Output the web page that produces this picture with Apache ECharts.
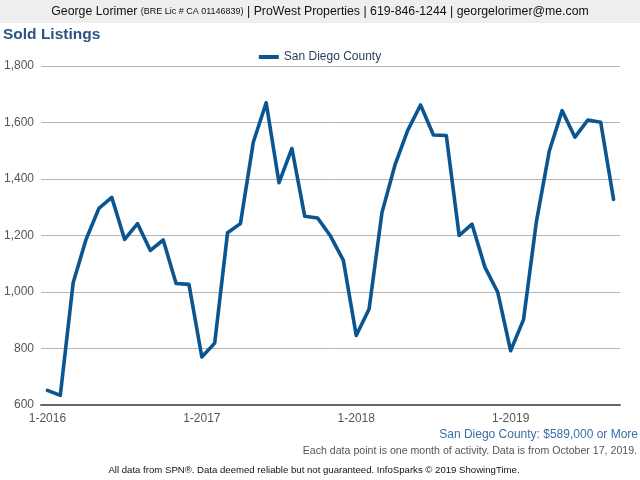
<!DOCTYPE html>
<html><head><meta charset="utf-8">
<script src="https://cdn.jsdelivr.net/npm/echarts@6/dist/echarts.min.js"></script>
<style>html,body{margin:0;padding:0;background:#fff}#c{width:640px;height:480px}</style>
</head><body><div id="c"></div>
<script>
var months = ["1-2016","2-2016","3-2016","4-2016","5-2016","6-2016","7-2016","8-2016","9-2016","10-2016","11-2016","12-2016",
"1-2017","2-2017","3-2017","4-2017","5-2017","6-2017","7-2017","8-2017","9-2017","10-2017","11-2017","12-2017",
"1-2018","2-2018","3-2018","4-2018","5-2018","6-2018","7-2018","8-2018","9-2018","10-2018","11-2018","12-2018",
"1-2019","2-2019","3-2019","4-2019","5-2019","6-2019","7-2019","8-2019","9-2019"];
var sanDiego = [652,634,1033,1186,1296,1335,1186,1242,1147,1184,1030,1027,
770,819,1210,1242,1530,1670,1387,1508,1268,1262,1198,1112,
846,940,1281,1448,1572,1662,1556,1554,1200,1240,1088,999,
792,902,1248,1498,1642,1548,1609,1601,1328];
var yTicks = [600,800,1000,1200,1400,1600,1800];

var chart = echarts.init(document.getElementById('c'));
chart.setOption({
  animation:false,
  backgroundColor:'#fff',
  graphic:[
    {type:'rect',shape:{x:0,y:0,width:640,height:23},style:{fill:'#eeeeee'}},
    {type:'text',x:320,y:12,style:{text:'{a|George Lorimer} {b|(BRE Lic # CA 01146839)}{a| | ProWest Properties | 619-846-1244 | georgelorimer@me.com}',
      align:'center',verticalAlign:'middle',
      rich:{a:{fontSize:12.3,fontFamily:'Liberation Sans, Arial',fill:'#111'},b:{fontSize:9,fontFamily:'Liberation Sans, Arial',fill:'#111'}}}},
    {type:'text',x:3,y:35,style:{text:'Sold Listings',fontSize:15.5,fontWeight:'bold',fontFamily:'Liberation Sans, Arial',fill:'#2a5482',verticalAlign:'middle'}},
    {type:'text',x:638,y:435,style:{text:'San Diego County: $589,000 or More',fontSize:12,fontFamily:'Liberation Sans, Arial',fill:'#3b6ea5',align:'right',verticalAlign:'middle'}},
    {type:'text',x:637,y:451,style:{text:'Each data point is one month of activity. Data is from October 17, 2019.',fontSize:10.6,fontFamily:'Liberation Sans, Arial',fill:'#555',align:'right',verticalAlign:'middle'}},
    {type:'text',x:314,y:470,style:{text:'All data from SPN®. Data deemed reliable but not guaranteed. InfoSparks © 2019 ShowingTime.',fontSize:9.6,fontFamily:'Liberation Sans, Arial',fill:'#111',align:'center',verticalAlign:'middle'}}
  ],
  legend:{top:46,left:'center',itemWidth:20,itemHeight:4,icon:'rect',itemGap:6,
    textStyle:{fontSize:12,fontFamily:'Liberation Sans, Arial',color:'#2c3e5c'},
    data:['San Diego County']},
  grid:{left:41,right:20,top:66,bottom:75,containLabel:false},
  xAxis:{type:'category',data:months,boundaryGap:true,
    axisLine:{lineStyle:{color:'#666',width:2}},
    axisTick:{alignWithLabel:true,length:5,lineStyle:{color:'#666',width:2},interval:function(i){return i%12===0;}},
    axisLabel:{interval:function(i){return i%12===0;},color:'#555',fontSize:12,fontFamily:'Liberation Sans, Arial',margin:8},
    splitLine:{show:false}},
  yAxis:{type:'value',min:yTicks[0],max:yTicks[yTicks.length-1],interval:200,
    axisLine:{show:false},axisTick:{show:false},
    axisLabel:{color:'#555',fontSize:12,fontFamily:'Liberation Sans, Arial',margin:7,
      formatter:function(v){return v.toLocaleString('en-US');}},
    splitLine:{lineStyle:{color:'#b5b5b5',width:1}}},
  series:[{name:'San Diego County',type:'line',data:sanDiego,showSymbol:false,symbol:'none',
    lineStyle:{color:'#0b5591',width:3.6,join:'round',cap:'round'},itemStyle:{color:'#0b5591'}}]
});
</script></body></html>
